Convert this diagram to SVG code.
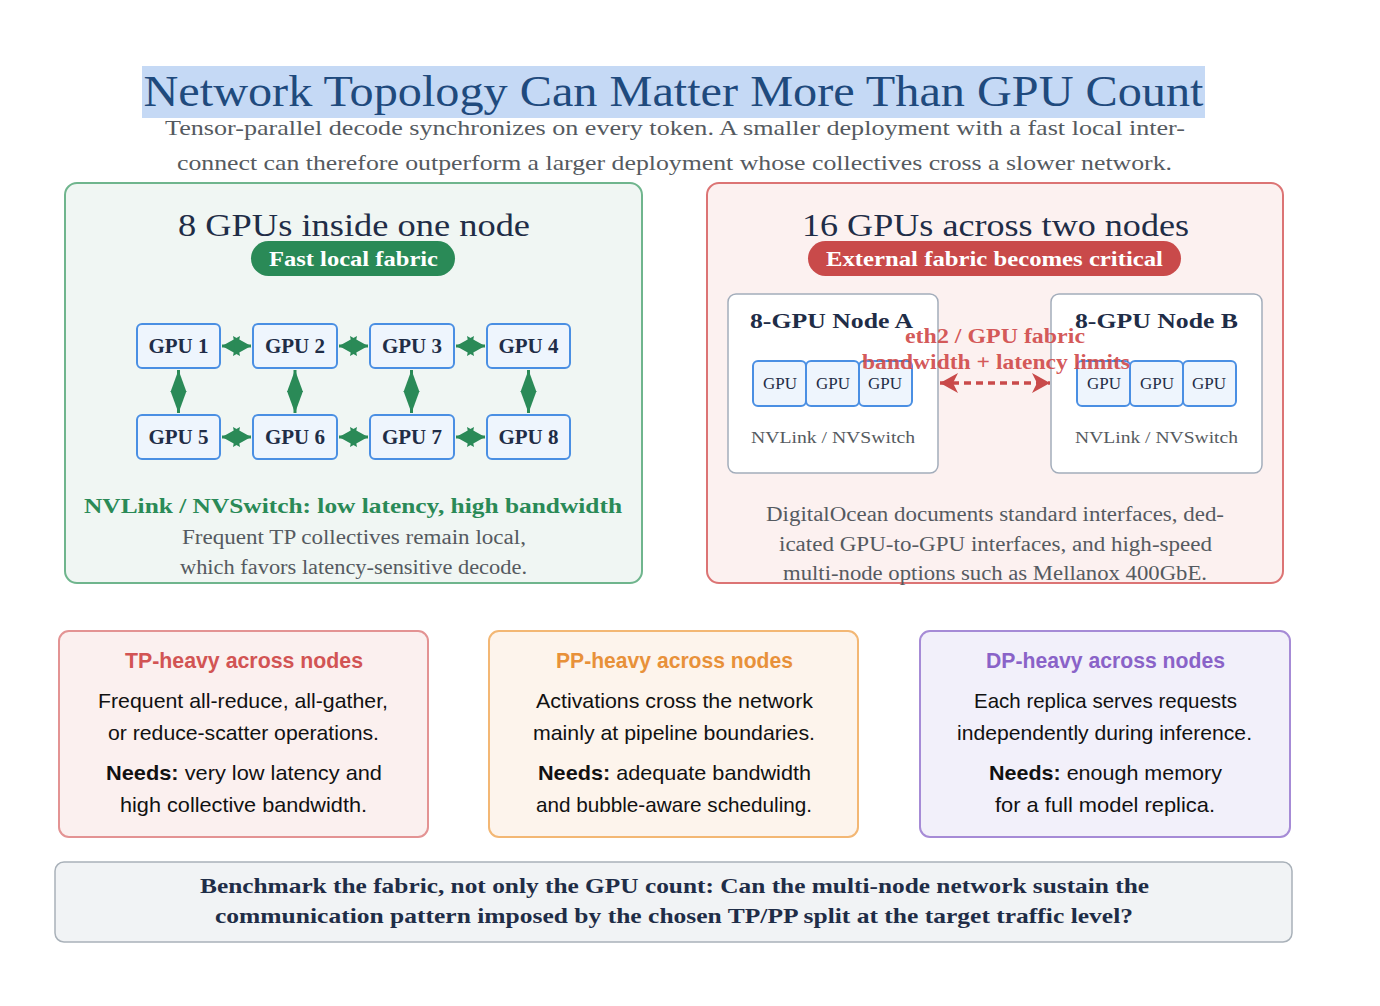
<svg xmlns="http://www.w3.org/2000/svg" width="1380" height="1006" viewBox="0 0 1380 1006">
<style>
.serif{font-family:"Liberation Serif","DejaVu Serif",serif}
.sans{font-family:"Liberation Sans","DejaVu Sans",sans-serif}
.navy{fill:#1f2d47}
.gray{fill:#555a60}
.gpu{fill:#eef5fd;stroke:#4a8fe3;stroke-width:2}
.gputxt{font-family:"Liberation Serif","DejaVu Serif",serif;font-weight:bold;font-size:21px;fill:#1f2d47;text-anchor:middle}
.mini{font-family:"Liberation Serif","DejaVu Serif",serif;font-size:17px;fill:#1f2d47;text-anchor:middle}
.node{fill:#ffffff;stroke:#a3adbb;stroke-width:1.5}
.card-body{font-family:"Liberation Sans","DejaVu Sans",sans-serif;font-size:21px;fill:#111;text-anchor:middle}
.card-title{font-family:"Liberation Sans","DejaVu Sans",sans-serif;font-size:22px;font-weight:bold;text-anchor:middle}
.mid{text-anchor:middle}
.glink{stroke:#2a8a57;stroke-width:3;fill:none}
</style>
<defs>
<marker id="gh" markerUnits="userSpaceOnUse" markerWidth="18" markerHeight="20" refX="18" refY="10" orient="auto-start-reverse" overflow="visible">
<path d="M0,0 L18,10 L0,20 L2,10 z" fill="#2a8a57"/>
</marker>
<marker id="gv" markerUnits="userSpaceOnUse" markerWidth="22" markerHeight="16" refX="22" refY="8" orient="auto-start-reverse" overflow="visible">
<path d="M0,0 L22,8 L0,16 z" fill="#2a8a57"/>
</marker>
<marker id="rh" markerUnits="userSpaceOnUse" markerWidth="18" markerHeight="20" refX="18" refY="10" orient="auto-start-reverse" overflow="visible">
<path d="M0,0 L18,10 L0,20 L5,10 z" fill="#c94a4a"/>
</marker>
</defs>
<rect width="1380" height="1006" fill="#ffffff"/>

<g id="title">
<rect x="142" y="66" width="1063" height="52" fill="#c5d9f5"/>
<text x="673.5" y="106" class="serif mid" font-size="44" fill="#1f4a7d" textLength="1060" lengthAdjust="spacingAndGlyphs">Network Topology Can Matter More Than GPU Count</text>
<text x="675" y="135" class="serif mid gray" font-size="22" textLength="1020" lengthAdjust="spacingAndGlyphs">Tensor-parallel decode synchronizes on every token.  A smaller deployment with a fast local inter-</text>
<text x="674.5" y="170" class="serif mid gray" font-size="22" textLength="995" lengthAdjust="spacingAndGlyphs">connect can therefore outperform a larger deployment whose collectives cross a slower network.</text>
</g>

<g id="panel-left">
<rect x="65" y="183" width="577" height="400" rx="12" fill="#f0f6f3" stroke="#6fb58d" stroke-width="2"/>
<text x="354" y="236" class="serif mid navy" font-size="32" textLength="352" lengthAdjust="spacingAndGlyphs">8 GPUs inside one node</text>
<rect x="251" y="241" width="204" height="35" rx="17.5" fill="#2a8a57"/>
<text x="353.5" y="266" class="serif mid" font-size="21" font-weight="bold" fill="#ffffff" textLength="169" lengthAdjust="spacingAndGlyphs">Fast local fabric</text>
<text x="353" y="513" class="serif mid" font-size="22" font-weight="bold" fill="#2a8a57" textLength="538" lengthAdjust="spacingAndGlyphs">NVLink / NVSwitch: low latency, high bandwidth</text>
<text x="354" y="544" class="serif mid gray" font-size="20" textLength="344" lengthAdjust="spacingAndGlyphs">Frequent TP collectives remain local,</text>
<text x="353.5" y="574" class="serif mid gray" font-size="20" textLength="347" lengthAdjust="spacingAndGlyphs">which favors latency-sensitive decode.</text>
</g>

<g id="gpu1"><rect x="137" y="324" width="83" height="44" rx="5" class="gpu"/><text x="178.5" y="353" class="gputxt">GPU 1</text></g>
<g id="gpu2"><rect x="253" y="324" width="84" height="44" rx="5" class="gpu"/><text x="295" y="353" class="gputxt">GPU 2</text></g>
<g id="gpu3"><rect x="370" y="324" width="84" height="44" rx="5" class="gpu"/><text x="412" y="353" class="gputxt">GPU 3</text></g>
<g id="gpu4"><rect x="487" y="324" width="83" height="44" rx="5" class="gpu"/><text x="528.5" y="353" class="gputxt">GPU 4</text></g>
<g id="gpu5"><rect x="137" y="415" width="83" height="44" rx="5" class="gpu"/><text x="178.5" y="444" class="gputxt">GPU 5</text></g>
<g id="gpu6"><rect x="253" y="415" width="84" height="44" rx="5" class="gpu"/><text x="295" y="444" class="gputxt">GPU 6</text></g>
<g id="gpu7"><rect x="370" y="415" width="84" height="44" rx="5" class="gpu"/><text x="412" y="444" class="gputxt">GPU 7</text></g>
<g id="gpu8"><rect x="487" y="415" width="83" height="44" rx="5" class="gpu"/><text x="528.5" y="444" class="gputxt">GPU 8</text></g>

<g id="panel-right">
<rect x="707" y="183" width="576" height="400" rx="12" fill="#fcf1f0" stroke="#dc7474" stroke-width="2"/>
<text x="995.5" y="236" class="serif mid navy" font-size="32" textLength="387" lengthAdjust="spacingAndGlyphs">16 GPUs across two nodes</text>
<rect x="808" y="241" width="373" height="35" rx="17.5" fill="#c94a4a"/>
<text x="994.5" y="266" class="serif mid" font-size="21" font-weight="bold" fill="#ffffff" textLength="337" lengthAdjust="spacingAndGlyphs">External fabric becomes critical</text>
<text x="995" y="521" class="serif mid gray" font-size="20" textLength="458" lengthAdjust="spacingAndGlyphs">DigitalOcean documents standard interfaces, ded-</text>
<text x="995.5" y="551" class="serif mid gray" font-size="20" textLength="433" lengthAdjust="spacingAndGlyphs">icated GPU-to-GPU interfaces, and high-speed</text>
<text x="995" y="580" class="serif mid gray" font-size="20" textLength="424" lengthAdjust="spacingAndGlyphs">multi-node options such as Mellanox 400GbE.</text>
</g>

<g id="node-a">
<rect x="728" y="294" width="210" height="179" rx="8" class="node"/>
<text x="831.5" y="328" class="serif mid navy" font-size="21" font-weight="bold" textLength="163" lengthAdjust="spacingAndGlyphs">8-GPU Node A</text>
<rect x="753" y="361" width="53" height="45" rx="5" class="gpu"/>
<rect x="806" y="361" width="53" height="45" rx="5" class="gpu"/>
<rect x="859" y="361" width="53" height="45" rx="5" class="gpu"/>
<text x="780" y="389" class="mini">GPU</text>
<text x="833" y="389" class="mini">GPU</text>
<text x="885" y="389" class="mini">GPU</text>
<text x="833" y="443" class="serif mid gray" font-size="17" textLength="164" lengthAdjust="spacingAndGlyphs">NVLink / NVSwitch</text>
</g>

<g id="node-b">
<rect x="1051" y="294" width="211" height="179" rx="8" class="node"/>
<text x="1156.5" y="328" class="serif mid navy" font-size="21" font-weight="bold" textLength="163" lengthAdjust="spacingAndGlyphs">8-GPU Node B</text>
<rect x="1077" y="361" width="53" height="45" rx="5" class="gpu"/>
<rect x="1130" y="361" width="53" height="45" rx="5" class="gpu"/>
<rect x="1183" y="361" width="53" height="45" rx="5" class="gpu"/>
<text x="1104" y="389" class="mini">GPU</text>
<text x="1157" y="389" class="mini">GPU</text>
<text x="1209" y="389" class="mini">GPU</text>
<text x="1156.5" y="443" class="serif mid gray" font-size="17" textLength="163" lengthAdjust="spacingAndGlyphs">NVLink / NVSwitch</text>
</g>

<g id="connectors">
<line x1="222" y1="346" x2="251" y2="346" class="glink" marker-start="url(#gh)" marker-end="url(#gh)"/>
<line x1="339" y1="346" x2="368" y2="346" class="glink" marker-start="url(#gh)" marker-end="url(#gh)"/>
<line x1="456" y1="346" x2="485" y2="346" class="glink" marker-start="url(#gh)" marker-end="url(#gh)"/>
<line x1="222" y1="437" x2="251" y2="437" class="glink" marker-start="url(#gh)" marker-end="url(#gh)"/>
<line x1="339" y1="437" x2="368" y2="437" class="glink" marker-start="url(#gh)" marker-end="url(#gh)"/>
<line x1="456" y1="437" x2="485" y2="437" class="glink" marker-start="url(#gh)" marker-end="url(#gh)"/>
<line x1="178.5" y1="370" x2="178.5" y2="413" class="glink" marker-start="url(#gv)" marker-end="url(#gv)"/>
<line x1="295" y1="370" x2="295" y2="413" class="glink" marker-start="url(#gv)" marker-end="url(#gv)"/>
<line x1="411.5" y1="370" x2="411.5" y2="413" class="glink" marker-start="url(#gv)" marker-end="url(#gv)"/>
<line x1="528.5" y1="370" x2="528.5" y2="413" class="glink" marker-start="url(#gv)" marker-end="url(#gv)"/>
<line x1="940" y1="383" x2="1050" y2="383" stroke="#c94a4a" stroke-width="3.5" stroke-dasharray="7,5" marker-start="url(#rh)" marker-end="url(#rh)"/>
<text x="995" y="343" class="serif mid" font-size="20" font-weight="bold" fill="#d04a4a" fill-opacity="0.92" textLength="180" lengthAdjust="spacingAndGlyphs">eth2 / GPU fabric</text>
<text x="996" y="369" class="serif mid" font-size="20" font-weight="bold" fill="#d04a4a" fill-opacity="0.92" textLength="268" lengthAdjust="spacingAndGlyphs">bandwidth + latency limits</text>
</g>

<g id="card-tp">
<rect x="59" y="631" width="369" height="206" rx="10" fill="#fbf0ef" stroke="#e39393" stroke-width="2"/>
<text x="244" y="668" class="card-title" fill="#d25454" textLength="238" lengthAdjust="spacingAndGlyphs">TP-heavy across nodes</text>
<text x="243" y="708" class="card-body" textLength="290" lengthAdjust="spacingAndGlyphs">Frequent all-reduce, all-gather,</text>
<text x="243.5" y="740" class="card-body" textLength="271" lengthAdjust="spacingAndGlyphs">or reduce-scatter operations.</text>
<text x="244" y="780" class="card-body" textLength="276" lengthAdjust="spacingAndGlyphs"><tspan font-weight="bold">Needs:</tspan> very low latency and</text>
<text x="243.5" y="812" class="card-body" textLength="247" lengthAdjust="spacingAndGlyphs">high collective bandwidth.</text>
</g>

<g id="card-pp">
<rect x="489" y="631" width="369" height="206" rx="10" fill="#fdf4ec" stroke="#f3b774" stroke-width="2"/>
<text x="674.5" y="668" class="card-title" fill="#e8913a" textLength="237" lengthAdjust="spacingAndGlyphs">PP-heavy across nodes</text>
<text x="674.5" y="708" class="card-body" textLength="277" lengthAdjust="spacingAndGlyphs">Activations cross the network</text>
<text x="674" y="740" class="card-body" textLength="282" lengthAdjust="spacingAndGlyphs">mainly at pipeline boundaries.</text>
<text x="674.5" y="780" class="card-body" textLength="273" lengthAdjust="spacingAndGlyphs"><tspan font-weight="bold">Needs:</tspan> adequate bandwidth</text>
<text x="674" y="812" class="card-body" textLength="276" lengthAdjust="spacingAndGlyphs">and bubble-aware scheduling.</text>
</g>

<g id="card-dp">
<rect x="920" y="631" width="370" height="206" rx="10" fill="#f2f0fa" stroke="#a68bd6" stroke-width="2"/>
<text x="1105.5" y="668" class="card-title" fill="#8a63c8" textLength="239" lengthAdjust="spacingAndGlyphs">DP-heavy across nodes</text>
<text x="1105.5" y="708" class="card-body" textLength="263" lengthAdjust="spacingAndGlyphs">Each replica serves requests</text>
<text x="1104.5" y="740" class="card-body" textLength="295" lengthAdjust="spacingAndGlyphs">independently during inference.</text>
<text x="1105.5" y="780" class="card-body" textLength="233" lengthAdjust="spacingAndGlyphs"><tspan font-weight="bold">Needs:</tspan> enough memory</text>
<text x="1105" y="812" class="card-body" textLength="220" lengthAdjust="spacingAndGlyphs">for a full model replica.</text>
</g>

<g id="footer">
<rect x="55" y="862" width="1237" height="80" rx="9" fill="#f1f3f5" stroke="#a9b1b9" stroke-width="1.5"/>
<text x="674.5" y="893" class="serif mid navy" font-size="21" font-weight="bold" textLength="949" lengthAdjust="spacingAndGlyphs">Benchmark the fabric, not only the GPU count: Can the multi-node network sustain the</text>
<text x="674" y="923" class="serif mid navy" font-size="21" font-weight="bold" textLength="918" lengthAdjust="spacingAndGlyphs">communication pattern imposed by the chosen TP/PP split at the target traffic level?</text>
</g>
</svg>
